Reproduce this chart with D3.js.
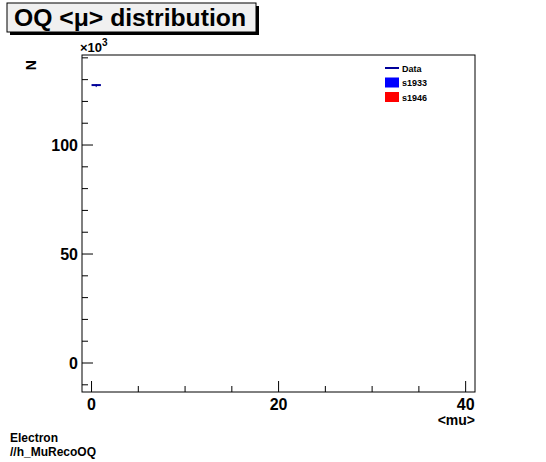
<!DOCTYPE html><html><head><meta charset="utf-8">
<script src="https://cdn.jsdelivr.net/npm/d3@7"></script>
<style>body{margin:0;background:#fff}text{font-family:"Liberation Sans",Arial,sans-serif;font-weight:bold}</style></head><body>
<svg id="c" width="546" height="462"></svg>
<script>
const binLo=[0], binHi=[1], dataVals=[127.5];
const xTicks=[0,20,40], yTicks=[0,50,100];
const legendLabels=["Data","s1933","s1946"], legendColors=["#000099","#0000ff","#ff0000"];
const svg=d3.select("#c");
const L=82,R=475,T=55,B=392;
const x=d3.scaleLinear().domain([-1.02,41.0]).range([L,R]);
const y=d3.scaleLinear().domain([-13.3,141.3]).range([B,T]);
svg.append("rect").attr("x",L).attr("y",T).attr("width",R-L).attr("height",B-T).attr("fill","none").attr("stroke","#000");
d3.range(0,41,5).forEach(v=>{const major=v%20===0;svg.append("line").attr("x1",x(v)).attr("x2",x(v)).attr("y1",B).attr("y2",B-(major?11:6)).attr("stroke","#000");});
xTicks.forEach(v=>svg.append("text").attr("x",x(v)).attr("y",B+18).attr("text-anchor","middle").attr("font-size",16).text(v));
d3.range(-10,141,10).forEach(v=>{const major=v%50===0;svg.append("line").attr("x1",L).attr("x2",L+(major?11:6)).attr("y1",y(v)).attr("y2",y(v)).attr("stroke","#000");});
yTicks.forEach(v=>svg.append("text").attr("x",L-4).attr("y",y(v)+6).attr("text-anchor","end").attr("font-size",16).text(v));
const t=svg.append("text").attr("x",80).attr("y",52).attr("font-size",13).attr("font-weight","normal");
t.append("tspan").text("×10");t.append("tspan").attr("dy",-6).attr("font-size",10).text("3");
svg.append("text").attr("x",475).attr("y",425).attr("text-anchor","end").attr("font-size",14).text("<mu>");
svg.append("text").attr("transform","translate(36,60) rotate(-90)").attr("text-anchor","end").attr("font-size",14).text("N");
dataVals.forEach((v,i)=>{svg.append("line").attr("x1",x(binLo[i])).attr("x2",x(binHi[i])).attr("y1",y(v)).attr("y2",y(v)).attr("stroke","#000099").attr("stroke-width",2);
svg.append("line").attr("x1",x((binLo[i]+binHi[i])/2)).attr("x2",x((binLo[i]+binHi[i])/2)).attr("y1",y(v)-1).attr("y2",y(v)+2).attr("stroke","#000099");});
legendLabels.forEach((l,i)=>{const yy=68+i*14.5;
 if(i===0) svg.append("line").attr("x1",385).attr("x2",399).attr("y1",yy).attr("y2",yy).attr("stroke",legendColors[i]).attr("stroke-width",2);
 else svg.append("rect").attr("x",385).attr("y",yy-5).attr("width",14).attr("height",10).attr("fill",legendColors[i]);
 svg.append("text").attr("x",402).attr("y",yy+3.5).attr("font-size",9).text(l);});
svg.append("rect").attr("x",10).attr("y",6).attr("width",249).attr("height",29).attr("fill","#000");
svg.append("rect").attr("x",7).attr("y",3).attr("width",249).attr("height",29).attr("fill","#f0f0f0").attr("stroke","#000");
svg.append("text").attr("x",14).attr("y",26).attr("font-size",23).attr("textLength",232).attr("lengthAdjust","spacingAndGlyphs").text("OQ <μ> distribution");
svg.append("text").attr("x",10).attr("y",442).attr("font-size",12).text("Electron");
svg.append("text").attr("x",10).attr("y",456).attr("font-size",12).text("//h_MuRecoOQ");
</script></body></html>
